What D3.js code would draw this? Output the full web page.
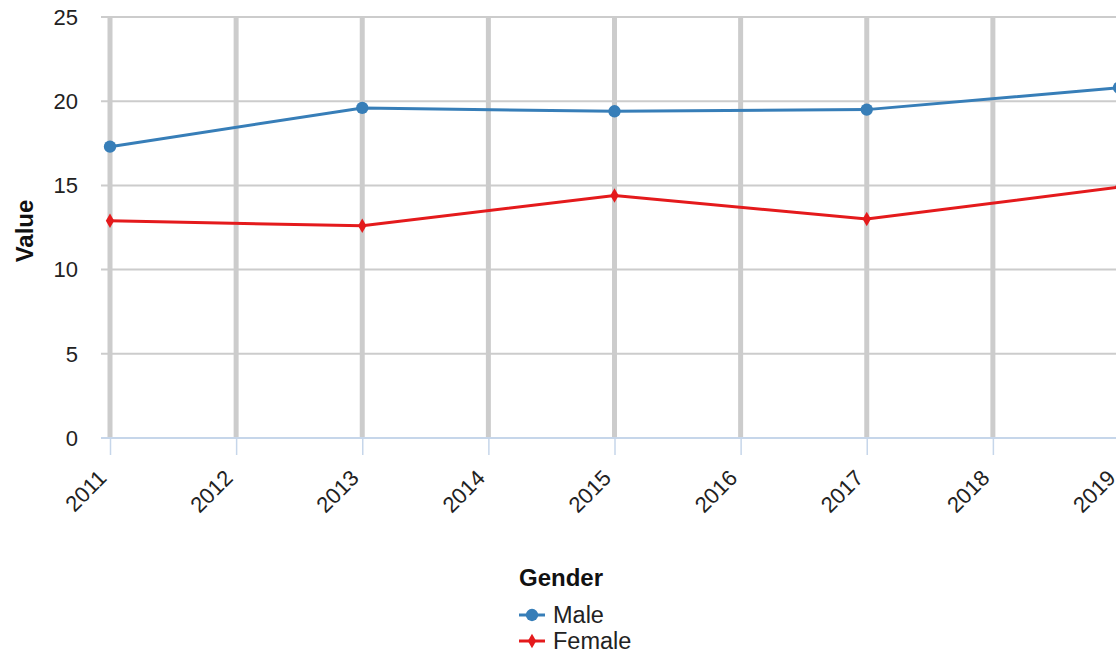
<!DOCTYPE html>
<html>
<head>
<meta charset="utf-8">
<script src="https://cdn.jsdelivr.net/npm/d3@7"></script>
<style>
  body { margin: 0; background: #fff; overflow: hidden; }
  svg { font-family: Arial, "Liberation Sans", sans-serif; }
</style>
</head>
<body>
<div id="chart"></div>
<script>
const years = [2011, 2012, 2013, 2014, 2015, 2016, 2017, 2018, 2019]
const yTicks = [0, 5, 10, 15, 20, 25]
const pointYears = [2011, 2013, 2015, 2017, 2019]
const maleValues = [17.3, 19.6, 19.4, 19.5, 20.8]
const femaleValues = [12.9, 12.6, 14.4, 13.0, 14.9]

const series = [
  { name: 'Male', color: '#377eb8', symbol: d3.symbolCircle, size: 120, values: maleValues },
  { name: 'Female', color: '#e41a1c', symbol: d3.symbolDiamond, size: 60, values: femaleValues }
]

const width = 1116
const height = 655

const svg = d3.select('#chart')
  .append('svg')
    .attr('width', width)
    .attr('height', height)

const x = d3.scaleLinear().domain([2011, 2019]).range([110, 1119])
const y = d3.scaleLinear().domain([0, 25]).range([438, 17])

// horizontal grid
svg.append('g')
  .selectAll('line')
  .data(yTicks.filter(d => d > 0))
  .enter()
  .append('line')
    .attr('x1', 101).attr('x2', width)
    .attr('y1', d => y(d)).attr('y2', d => y(d))
    .attr('stroke', '#cccccc')
    .attr('stroke-width', 2)

// vertical grid (thick)
svg.append('g')
  .selectAll('line')
  .data(years)
  .enter()
  .append('line')
    .attr('x1', d => x(d)).attr('x2', d => x(d))
    .attr('y1', y(25)).attr('y2', y(0))
    .attr('stroke', '#cccccc')
    .attr('stroke-width', 5)

// x axis
const xAxis = svg.append('g')
  .attr('transform', 'translate(0,' + y(0) + ')')
  .call(d3.axisBottom(x).tickValues(years).tickFormat(d3.format('d')).tickSize(17).tickSizeOuter(0))
xAxis.select('.domain').remove()
xAxis.insert('line', ':first-child')
  .attr('x1', 101).attr('x2', width)
  .attr('stroke', '#c6d6ea').attr('stroke-width', 2)
xAxis.selectAll('.tick line').attr('stroke', '#c6d6ea').attr('stroke-width', 1.5)
xAxis.selectAll('.tick text')
  .attr('fill', '#222')
  .attr('font-family', 'Arial, "Liberation Sans", sans-serif')
  .style('font-size', '22px')
  .attr('text-anchor', 'end')
  .attr('x', 0)
  .attr('y', 0)
  .attr('dy', '0.35em')
  .attr('transform', 'translate(-8,36) rotate(-45)')

// y axis labels
svg.append('g')
  .selectAll('text')
  .data(yTicks)
  .enter()
  .append('text')
    .attr('x', 78)
    .attr('y', d => y(d))
    .attr('dy', '0.35em')
    .attr('text-anchor', 'end')
    .attr('fill', '#222')
    .style('font-size', '22px')
    .text(d => d)

svg.append('text')
  .attr('transform', 'translate(33,231) rotate(-90)')
  .attr('text-anchor', 'middle')
  .style('font-size', '24px')
  .style('font-weight', 'bold')
  .attr('fill', '#111')
  .text('Value')

// lines and markers
const line = d3.line()
  .x((d, i) => x(pointYears[i]))
  .y(d => y(d))

series.forEach(s => {
  svg.append('path')
    .datum(s.values)
    .attr('d', line)
    .attr('fill', 'none')
    .attr('stroke', s.color)
    .attr('stroke-width', 3)

  svg.append('g')
    .selectAll('path')
    .data(s.values)
    .enter()
    .append('path')
      .attr('d', d3.symbol().type(s.symbol).size(s.size))
      .attr('transform', (d, i) => 'translate(' + x(pointYears[i]) + ',' + y(d) + ')')
      .attr('fill', s.color)
})

// legend
const legend = svg.append('g').attr('transform', 'translate(519,578)')
legend.append('text')
  .attr('x', 0).attr('y', 0)
  .attr('dy', '0.35em')
  .style('font-size', '24px')
  .style('font-weight', 'bold')
  .attr('fill', '#111')
  .text('Gender')

series.forEach((s, i) => {
  const g = legend.append('g').attr('transform', 'translate(0,' + (37 + i * 26) + ')')
  g.append('line')
    .attr('x1', 0).attr('x2', 26)
    .attr('stroke', s.color).attr('stroke-width', 3)
  g.append('path')
    .attr('d', d3.symbol().type(s.symbol).size(s.size))
    .attr('transform', 'translate(13,0)')
    .attr('fill', s.color)
  g.append('text')
    .attr('x', 34).attr('y', 0)
    .attr('dy', '0.35em')
    .style('font-size', '23.5px')
    .attr('fill', '#222')
    .text(s.name)
})
</script>
</body>
</html>
